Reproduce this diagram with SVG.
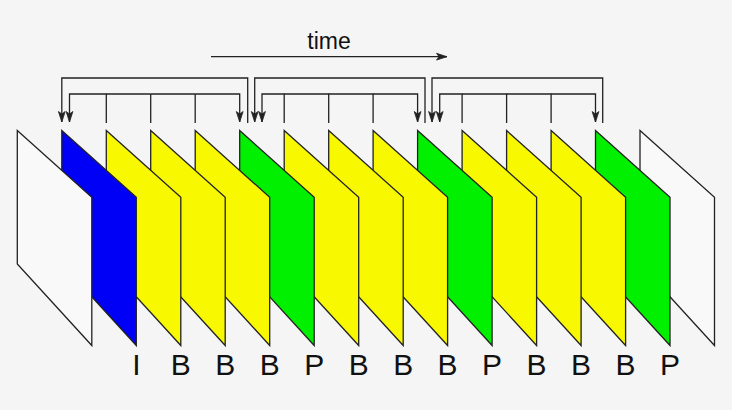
<svg xmlns="http://www.w3.org/2000/svg" width="732" height="410" viewBox="0 0 732 410">
<defs>
<marker id="arr" markerUnits="userSpaceOnUse" markerWidth="14" markerHeight="10" refX="11" refY="4" orient="auto" overflow="visible">
<path d="M0.5,0.6 L11,4 L0.5,7.4 L3,4 Z" fill="#222" stroke="#222" stroke-width="0.8" stroke-linejoin="miter"/>
</marker>
<style>
.frame{stroke:#222;stroke-width:1.3;stroke-linejoin:miter}
.w{fill:#f9f9f9}
.b{fill:#0000f6}
.y{fill:#f8f800}
.g{fill:#00f000}
.con path{fill:none;stroke:#222;stroke-width:1.3}
.lbl{font-family:"Liberation Sans",Arial,sans-serif;font-size:30px;fill:#111;text-anchor:middle}
.t{font-family:"Liberation Sans",Arial,sans-serif;font-size:23px;fill:#111;text-anchor:middle}
</style>
</defs>
<rect width="732" height="410" fill="#f5f5f5"/>

<g id="time">
<text class="t" x="329" y="48.5">time</text>
<path d="M211,56.7 H447" fill="none" stroke="#222" stroke-width="1.3" marker-end="url(#arr)"/>
</g>

<g id="frames">
<g id="f14"><polygon class="frame w" points="640,130.5 714.5,197.3 714.5,345.5 640,264"/></g>
<g id="f13"><polygon class="frame g" points="595.5,130.5 670,197.3 670,345.5 595.5,264"/></g>
<g id="f12"><polygon class="frame y" points="551.1,130.5 625.6,197.3 625.6,345.5 551.1,264"/></g>
<g id="f11"><polygon class="frame y" points="506.6,130.5 581.1,197.3 581.1,345.5 506.6,264"/></g>
<g id="f10"><polygon class="frame y" points="462.1,130.5 536.6,197.3 536.6,345.5 462.1,264"/></g>
<g id="f9"><polygon class="frame g" points="417.6,130.5 492.1,197.3 492.1,345.5 417.6,264"/></g>
<g id="f8"><polygon class="frame y" points="373.1,130.5 447.6,197.3 447.6,345.5 373.1,264"/></g>
<g id="f7"><polygon class="frame y" points="328.7,130.5 403.2,197.3 403.2,345.5 328.7,264"/></g>
<g id="f6"><polygon class="frame y" points="284.2,130.5 358.7,197.3 358.7,345.5 284.2,264"/></g>
<g id="f5"><polygon class="frame g" points="239.7,130.5 314.2,197.3 314.2,345.5 239.7,264"/></g>
<g id="f4"><polygon class="frame y" points="195.2,130.5 269.7,197.3 269.7,345.5 195.2,264"/></g>
<g id="f3"><polygon class="frame y" points="150.7,130.5 225.2,197.3 225.2,345.5 150.7,264"/></g>
<g id="f2"><polygon class="frame y" points="106.3,130.5 180.8,197.3 180.8,345.5 106.3,264"/></g>
<g id="f1"><polygon class="frame b" points="61.8,130.5 136.3,197.3 136.3,345.5 61.8,264"/></g>
<g id="f0"><polygon class="frame w" points="17.3,130.5 91.8,197.3 91.8,345.5 17.3,264"/></g>
</g>

<g id="labels">
<text class="lbl" x="136.3" y="375">I</text>
<text class="lbl" x="180.8" y="375">B</text>
<text class="lbl" x="225.2" y="375">B</text>
<text class="lbl" x="269.7" y="375">B</text>
<text class="lbl" x="314.2" y="375">P</text>
<text class="lbl" x="358.7" y="375">B</text>
<text class="lbl" x="403.2" y="375">B</text>
<text class="lbl" x="447.6" y="375">B</text>
<text class="lbl" x="492.1" y="375">P</text>
<text class="lbl" x="536.6" y="375">B</text>
<text class="lbl" x="581.1" y="375">B</text>
<text class="lbl" x="625.6" y="375">B</text>
<text class="lbl" x="670" y="375">P</text>
</g>

<g id="connectors" class="con">
<path d="M247.7,123 V78 H61.8 V122" marker-end="url(#arr)"/>
<path d="M106.3,123 V94 H69.5 V122" marker-end="url(#arr)"/>
<path d="M195.2,94 H239.7 V122" marker-end="url(#arr)"/>
<path d="M150.7,123 V94"/>
<path d="M195.2,123 V94"/>
<path d="M150.7,94 H106.3"/>
<path d="M195.2,94 H150.7"/>

<path d="M425,123 V78 H254.7 V122" marker-end="url(#arr)"/>
<path d="M284.2,123 V94 H262 V122" marker-end="url(#arr)"/>
<path d="M373.1,94 H417.6 V122" marker-end="url(#arr)"/>
<path d="M328.7,123 V94 H284.2"/>
<path d="M373.1,123 V94 H328.7"/>

<path d="M602.7,123 V78 H432 V122" marker-end="url(#arr)"/>
<path d="M462.1,123 V94 H439.7 V122" marker-end="url(#arr)"/>
<path d="M551.1,94 H595.5 V122" marker-end="url(#arr)"/>
<path d="M506.6,123 V94 H462.1"/>
<path d="M551.1,123 V94 H506.6"/>
</g>
</svg>
